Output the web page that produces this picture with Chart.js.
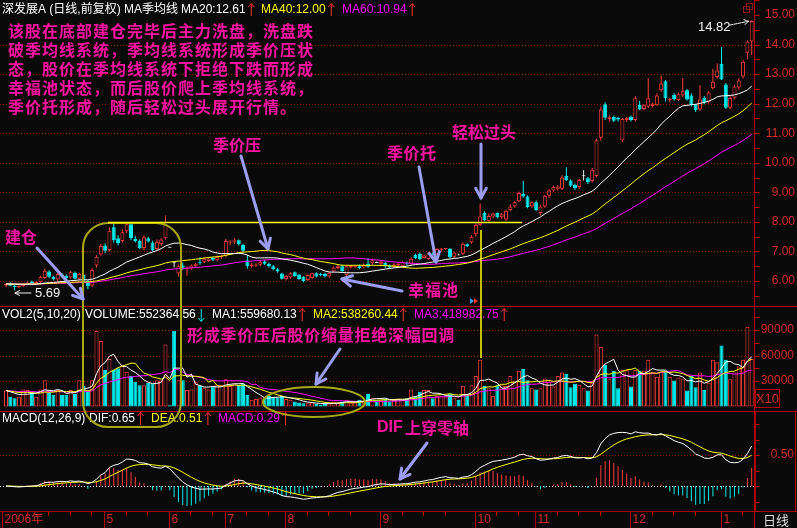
<!DOCTYPE html>
<html>
<head>
<meta charset="utf-8">
<script src="https://cdn.jsdelivr.net/npm/chart.js@4.4.1/dist/chart.umd.min.js"></script>
<style>
html, body { margin: 0; padding: 0; background: #0a0a0a; overflow: hidden; }
#wrap { position: relative; width: 797px; height: 528px; }
</style>
</head>
<body>
<div id="wrap"><canvas id="kline" width="797" height="528"></canvas></div>
<script>
'use strict';

//daily candles, 2006-04 .. 2007-01 (forward adjusted)
var openPx = [5.85,5.90,5.84,5.80,5.83,5.90,5.98,5.92,5.96,6.10,
    6.32,6.14,6.05,6.22,6.18,6.12,6.28,6.08,6.20,6.00,
    5.85,6.52,6.90,7.20,7.05,7.82,7.45,7.35,7.68,7.92,
    7.42,7.35,7.12,7.45,7.30,7.08,7.25,7.45,7.16,6.63,
    6.25,6.52,6.42,6.42,6.50,6.62,6.65,6.68,6.78,6.70,
    6.80,6.85,7.30,7.30,7.38,7.22,6.70,6.50,6.52,6.55,
    6.66,6.58,6.50,6.40,6.25,6.06,6.12,6.30,6.22,6.14,
    6.03,6.10,6.26,6.22,6.24,6.15,6.32,6.44,6.50,6.20,
    6.46,6.48,6.50,6.46,6.58,6.60,6.64,6.58,6.62,6.52,
    6.48,6.52,6.50,6.62,6.58,6.88,6.92,6.78,6.74,6.92,
    6.90,7.06,7.08,7.08,6.82,6.90,6.92,7.24,7.30,7.58,
    7.90,8.30,8.04,8.18,8.30,8.16,8.08,8.40,8.52,8.70,
    8.95,8.86,8.52,8.66,8.30,8.52,8.88,9.06,9.10,9.12,
    9.56,9.40,9.26,9.18,9.58,9.48,9.38,9.55,10.85,11.98,
    11.48,11.55,11.52,10.75,11.45,11.56,11.45,11.96,11.82,11.90,
    11.92,11.95,12.45,12.76,12.12,12.30,12.12,12.28,12.45,12.28,
    11.96,11.80,12.20,12.05,12.52,12.90,13.35,12.65,11.86,12.20,
    12.55,12.92,13.72,14.10]
var highPx = [5.92,5.95,5.88,5.86,5.92,5.98,6.02,6.00,6.18,6.42,
    6.36,6.18,6.28,6.26,6.22,6.34,6.32,6.28,6.22,6.04,
    6.43,6.88,7.25,7.28,7.82,7.98,7.55,7.75,8.00,7.98,
    7.52,7.40,7.55,7.50,7.36,7.40,7.45,8.22,7.16,6.64,
    6.55,6.62,6.50,6.56,6.62,6.80,6.80,6.80,6.82,6.86,
    6.88,7.42,7.38,7.45,7.40,7.26,6.88,6.62,6.60,6.70,
    6.72,6.62,6.54,6.44,6.28,6.20,6.30,6.32,6.24,6.16,
    6.22,6.28,6.30,6.28,6.28,6.32,6.50,6.54,6.55,6.55,
    6.54,6.52,6.56,6.60,6.78,6.76,6.66,6.70,6.66,6.56,
    6.60,6.62,6.68,6.66,6.80,6.92,6.96,6.90,6.98,6.96,
    7.12,7.12,7.12,7.12,6.98,6.92,7.30,7.28,7.55,7.95,
    8.62,8.36,8.28,8.32,8.32,8.30,8.42,8.60,8.70,9.02,
    9.38,8.90,8.70,8.72,8.58,8.92,9.10,9.22,9.24,9.58,
    9.85,9.44,9.30,9.45,9.75,9.52,9.82,10.82,11.90,12.05,
    11.60,11.60,11.56,11.52,11.56,11.60,12.25,12.10,11.98,12.86,
    12.04,12.35,12.95,12.80,12.20,12.36,12.38,12.86,12.50,12.35,
    12.00,12.62,12.26,12.42,13.18,13.36,13.92,12.70,12.25,12.65,
    12.86,13.48,14.14,14.82]
var lowPx = [5.80,5.82,5.69,5.76,5.80,5.86,5.88,5.88,5.93,6.06,
    6.10,6.02,6.00,6.12,6.06,6.08,6.05,6.02,5.98,5.72,
    5.80,6.45,6.86,6.95,7.00,7.30,7.20,7.30,7.62,7.38,
    7.30,7.08,7.05,7.30,7.00,7.02,7.18,7.40,7.16,6.46,
    6.15,6.38,6.18,6.38,6.45,6.55,6.60,6.64,6.68,6.66,
    6.74,6.80,7.20,7.25,7.20,6.98,6.42,6.45,6.48,6.50,
    6.54,6.46,6.36,6.28,6.05,6.02,6.08,6.14,6.04,5.96,
    6.00,6.08,6.12,6.16,6.12,6.12,6.30,6.40,6.30,6.12,
    6.42,6.42,6.40,6.42,6.45,6.55,6.62,6.52,6.45,6.42,
    6.44,6.48,6.46,6.52,6.55,6.74,6.70,6.76,6.72,6.86,
    6.86,7.02,7.05,6.76,6.78,6.88,6.88,7.14,7.26,7.50,
    7.85,8.02,8.00,8.12,8.12,8.10,8.02,8.36,8.48,8.66,
    8.82,8.46,8.48,8.36,8.22,8.48,8.82,9.02,9.06,9.08,
    9.38,9.18,9.08,9.12,9.40,9.28,9.32,9.50,10.75,11.45,
    11.40,11.38,11.40,10.70,11.38,11.40,11.40,11.78,11.78,11.85,
    11.88,11.92,12.40,12.07,12.05,12.10,12.08,12.22,12.10,11.90,
    11.72,11.75,11.98,12.00,12.48,12.84,12.80,11.82,11.80,12.15,
    12.48,12.85,13.50,13.65]
var closePx = [5.90,5.84,5.80,5.83,5.90,5.95,5.92,5.97,6.14,6.35,
    6.14,6.06,6.24,6.16,6.10,6.30,6.08,6.24,6.02,5.82,
    6.38,6.82,7.18,7.02,7.70,7.38,7.28,7.65,7.92,7.45,
    7.35,7.12,7.48,7.34,7.05,7.32,7.40,7.92,7.16,6.63,
    6.50,6.45,6.46,6.52,6.58,6.60,6.76,6.76,6.72,6.82,
    6.84,7.35,7.32,7.40,7.24,7.02,6.50,6.56,6.56,6.65,
    6.58,6.50,6.40,6.32,6.08,6.18,6.26,6.16,6.07,6.00,
    6.20,6.26,6.15,6.20,6.16,6.28,6.46,6.50,6.34,6.50,
    6.52,6.50,6.44,6.54,6.48,6.70,6.64,6.66,6.50,6.46,
    6.56,6.58,6.64,6.58,6.75,6.78,6.74,6.86,6.94,6.90,
    7.08,7.10,7.11,6.80,6.96,6.90,7.26,7.18,7.50,7.90,
    8.18,8.06,8.20,8.28,8.16,8.26,8.38,8.52,8.66,8.98,
    8.86,8.50,8.66,8.40,8.52,8.88,9.06,9.18,9.20,9.50,
    9.42,9.22,9.14,9.42,9.58,9.34,9.76,10.76,11.80,11.52,
    11.56,11.42,11.46,11.48,11.52,11.45,12.18,11.80,11.95,12.18,
    12.00,12.28,12.68,12.18,12.16,12.15,12.32,12.42,12.14,11.96,
    11.78,12.14,12.04,12.38,12.74,13.12,12.82,11.86,12.20,12.58,
    12.78,13.42,14.10,14.80]
//volume in units of 10 shares (panel shows X10)
var volume = [18800,11600,9700,11600,20000,19500,16000,11600,20000,31000,
    15800,13800,19500,13800,13800,19500,14600,31000,24000,18800,
    31000,88700,77000,43000,56000,43000,45000,49000,41000,36000,
    29000,25000,25000,28000,27000,31000,31000,73000,1600,89000,
    31000,31000,19500,20000,29000,24000,21500,20000,23500,25500,
    25500,32000,24000,27000,25500,27000,13600,7900,8700,10500,
    9800,12400,11600,10500,12400,8700,7900,5900,4700,3900,
    3900,4700,3000,2200,3000,3900,5900,4700,5900,7900,
    3900,4700,7900,6700,14600,9800,7900,7900,8700,5900,
    7900,8700,7700,9700,20000,12000,17500,19500,19500,9700,
    12400,12400,10800,15400,9700,7900,24000,13800,25000,36000,
    55000,24000,21500,12400,25000,25000,24000,36000,29000,42000,
    44000,31000,21500,20000,21500,33000,29000,23500,36000,40000,
    38500,22700,26700,25500,21500,18800,28000,84700,70000,49000,
    32000,42000,21500,43000,43000,23500,43000,42000,42000,55000,
    41000,35000,41000,42000,35000,30500,34000,33000,18800,36000,
    22700,40000,19500,28000,55000,52000,71700,55000,32000,40000,
    47000,55000,93800,56000]

var priceTicks = [6, 7, 8, 9, 10, 11, 12, 13, 14, 15]
var priceGrid = [6, 7, 8, 9, 10, 11, 12, 13, 14]
var volumeTicks = [30000, 60000, 90000]
var macdTicks = [0.5]
var monthLabels = ['2006年', '5', '6', '7', '8', '9', '10', '11', '12', '1']
var monthStarts = [0, 23, 38, 51, 65, 87, 109, 123, 145, 166]

var priceHeader = [['深发展A (日线,前复权) MA季均线', 2, '#ffffff', ''], ['MA20:12.61', 181, '#ffffff', 'up'], ['MA40:12.00', 261, '#ffff00', 'up'], ['MA60:10.94', 342, '#ff00ff', 'up']]
var volHeader = [['VOL2(5,10,20)', 2, '#ffffff', ''], ['VOLUME:552364.56', 85, '#ffffff', 'down'], ['MA1:559680.13', 212, '#ffffff', 'up'], ['MA2:538260.44', 313, '#ffff00', 'up'], ['MA3:418982.75', 414, '#ff00ff', 'up']]
var macdHeader = [['MACD(12,26,9)', 2, '#ffffff', ''], ['DIF:0.65', 89, '#ffffff', 'up'], ['DEA:0.51', 151, '#ffff00', 'up'], ['MACD:0.29', 218, '#ff00ff', 'up']]

var noteLines = ['该股在底部建仓完毕后主力洗盘，洗盘跌', '破季均线系统，季均线系统形成季价压状', '态，股价在季均线系统下拒绝下跌而形成', '幸福池状态，而后股价爬上季均线系统，', '季价托形成，随后轻松过头展开行情。']

//colours
var BG = '#0a0a0a'
var UP = '#ff3c3c'
var DN = '#00eeee'
var FLAT = '#e8e8e8'
var AXIS_RED = '#b00000'
var GRID_RED = '#8c0000'
var LABEL_RED = '#d42a2a'
var PINK = '#ff14a0'
var LAVENDER = '#9c9cf0'
var OLIVE = '#a8a814'

//indicators from the candles
function movingAvg(arr, n) {
    return arr.map(function (v, i) {
        let s = 0
        for (let k = i - n + 1; k <= i; k++) s += arr[Math.max(k, 0)]
        return s / n
    })
}

function ema(arr, n) {
    let a = 2 / (n + 1)
    let out = []
    for (let i = 0; i < arr.length; i++) {
        out.push(i === 0 ? arr[0] : a * arr[i] + (1 - a) * out[i - 1])
    }
    return out
}

var ma20 = movingAvg(closePx, 20)
var ma40 = movingAvg(closePx, 40)
var ma60 = movingAvg(closePx, 60)
var vma5 = movingAvg(volume, 5)
var vma10 = movingAvg(volume, 10)
var vma20 = movingAvg(volume, 20)
var ema12 = ema(closePx, 12)
var ema26 = ema(closePx, 26)
var dif = ema12.map(function (v, i) { return v - ema26[i] })
var dea = ema(dif, 9)
var macdHist = dif.map(function (v, i) { return 2 * (v - dea[i]) })

var candleColor = closePx.map(function (c, i) {
    return c > openPx[i] ? UP : (c < openPx[i] ? DN : FLAT)
})
var bodyFill = candleColor.map(function (c) { return c === UP ? BG : c })
var volColor = closePx.map(function (c, i) {
    if (c > openPx[i]) return UP
    if (c < openPx[i]) return DN
    return (i > 0 && c < closePx[i - 1]) ? DN : UP
})
var volFill = volColor.map(function (c) { return c === UP ? BG : c })
var histColor = macdHist.map(function (v) { return v >= 0 ? UP : DN })

//panel geometry: chart area is 0..511, three bands share it
var PRICE_MIN = -1.782, PRICE_MAX = 15.507
var VOL_MIN = -122944, VOL_MAX = 478250
var MACD_MIN = -0.403, MACD_MAX = 7.839
var PANEL_PRICE_BOTTOM = 306.5
var PANEL_VOL_BOTTOM = 411.5
var PANEL_MACD_BOTTOM = 511.5

function hline(ctx, x1, x2, y, color, dash) {
    ctx.save()
    ctx.strokeStyle = color
    ctx.lineWidth = 1
    ctx.setLineDash(dash || [])
    ctx.beginPath()
    ctx.moveTo(x1, y)
    ctx.lineTo(x2, y)
    ctx.stroke()
    ctx.restore()
}

function vline(ctx, x, y1, y2, color) {
    ctx.save()
    ctx.strokeStyle = color
    ctx.lineWidth = 1
    ctx.beginPath()
    ctx.moveTo(x, y1)
    ctx.lineTo(x, y2)
    ctx.stroke()
    ctx.restore()
}

function txt(ctx, s, x, y, color, font, align, spacing) {
    ctx.save()
    ctx.font = font
    ctx.fillStyle = color
    ctx.textAlign = align || 'left'
    ctx.textBaseline = 'middle'
    if (spacing) ctx.letterSpacing = spacing
    ctx.fillText(s, x, y)
    ctx.restore()
}

function arrow(ctx, x1, y1, x2, y2, color, w, head) {
    ctx.save()
    ctx.strokeStyle = color
    ctx.lineWidth = w
    ctx.lineCap = 'round'
    ctx.lineJoin = 'round'
    ctx.beginPath()
    ctx.moveTo(x1, y1)
    ctx.lineTo(x2, y2)
    ctx.stroke()
    let a = Math.atan2(y2 - y1, x2 - x1)
    ctx.beginPath()
    ctx.moveTo(x2 - head * Math.cos(a - 0.5), y2 - head * Math.sin(a - 0.5))
    ctx.lineTo(x2, y2)
    ctx.lineTo(x2 - head * Math.cos(a + 0.5), y2 - head * Math.sin(a + 0.5))
    ctx.stroke()
    ctx.restore()
}

function tinyArrow(ctx, x, yc, dir, color) {
    ctx.save()
    ctx.strokeStyle = color
    ctx.lineWidth = 1
    ctx.beginPath()
    ctx.moveTo(x + 0.5, yc - 6)
    ctx.lineTo(x + 0.5, yc + 6)
    if (dir === 'up') {
        ctx.moveTo(x - 2.5, yc - 3)
        ctx.lineTo(x + 0.5, yc - 6.5)
        ctx.lineTo(x + 3.5, yc - 3)
    } else {
        ctx.moveTo(x - 2.5, yc + 3)
        ctx.lineTo(x + 0.5, yc + 6.5)
        ctx.lineTo(x + 3.5, yc + 3)
    }
    ctx.stroke()
    ctx.restore()
}

function header(ctx, items, y) {
    let font = "12px 'Liberation Sans', Arial, 'Noto Sans CJK SC'"
    items.forEach(function (it) {
        txt(ctx, it[0], it[1], y, it[2], font)
        if (it[3]) {
            ctx.font = font
            let end = it[1] + ctx.measureText(it[0]).width
            tinyArrow(ctx, end + 5, y, it[3], it[3] === 'up' ? '#ff3030' : DN)
        }
    })
}

function roundBox(ctx, x, y, w, h, r) {
    ctx.beginPath()
    ctx.moveTo(x + r, y)
    ctx.lineTo(x + w - r, y)
    ctx.arcTo(x + w, y, x + w, y + r, r)
    ctx.lineTo(x + w, y + h - r)
    ctx.arcTo(x + w, y + h, x + w - r, y + h, r)
    ctx.lineTo(x + r, y + h)
    ctx.arcTo(x, y + h, x, y + h - r, r)
    ctx.lineTo(x, y + r)
    ctx.arcTo(x, y, x + r, y, r)
    ctx.closePath()
}

var panelDecor = {
    id: 'panelDecor',
    beforeDraw: function (chart) {
        let ctx = chart.ctx
        ctx.save()
        ctx.fillStyle = BG
        ctx.fillRect(0, 0, chart.width, chart.height)
        ctx.restore()
    },
    beforeDatasetsDraw: function (chart) {
        let ctx = chart.ctx
        let area = chart.chartArea
        let yS = chart.scales.y, vS = chart.scales.yv, mS = chart.scales.ym
        priceGrid.forEach(function (v) {
            hline(ctx, 0, area.right, Math.round(yS.getPixelForValue(v)) + 0.5, GRID_RED, [1, 2])
        })
        volumeTicks.forEach(function (v) {
            hline(ctx, 0, area.right, Math.round(vS.getPixelForValue(v)) + 0.5, GRID_RED, [1, 2])
        })
        macdTicks.forEach(function (v) {
            hline(ctx, 0, area.right, Math.round(mS.getPixelForValue(v)) + 0.5, GRID_RED, [1, 2])
        })
        //macd zero axis
        hline(ctx, 0, area.right, Math.round(mS.getPixelForValue(0)) + 0.5, '#ffffff', [1, 2])
    },
    afterDatasetsDraw: function (chart) {
        let ctx = chart.ctx
        let area = chart.chartArea
        let xS = chart.scales.x, yS = chart.scales.y, vS = chart.scales.yv, mS = chart.scales.ym
        let W = chart.width
        let axisX = Math.round(area.right) + 0.5
        let numFont = "12px 'Liberation Sans', Arial"

        //frames
        hline(ctx, 0, W, PANEL_PRICE_BOTTOM, AXIS_RED)
        hline(ctx, 0, W, PANEL_VOL_BOTTOM, AXIS_RED)
        hline(ctx, 0, W, PANEL_MACD_BOTTOM, AXIS_RED)
        vline(ctx, axisX, 0, chart.height, AXIS_RED)
        ctx.save()
        ctx.strokeStyle = AXIS_RED
        ctx.strokeRect(axisX + 1, PANEL_VOL_BOTTOM, 795.5 - axisX - 1, 100)
        ctx.restore()

        //right axis labels and ticks
        priceTicks.forEach(function (v) {
            txt(ctx, v.toFixed(2), 795, yS.getPixelForValue(v), LABEL_RED, numFont, 'right')
        })
        for (let v = 5.5; v <= 15.5; v += 0.5) {
            let y = Math.round(yS.getPixelForValue(v)) + 0.5
            if (y < PANEL_PRICE_BOTTOM - 2) hline(ctx, axisX, axisX + 5, y, AXIS_RED)
        }
        volumeTicks.forEach(function (v) {
            txt(ctx, String(v), 794, vS.getPixelForValue(v), LABEL_RED, numFont, 'right')
        })
        for (let v = 15000; v <= 105000; v += 15000) {
            hline(ctx, axisX, axisX + 5, Math.round(vS.getPixelForValue(v)) + 0.5, AXIS_RED)
        }
        macdTicks.forEach(function (v) {
            txt(ctx, v.toFixed(2), 794, mS.getPixelForValue(v), LABEL_RED, numFont, 'right')
        })
        for (let v = -0.25; v <= 1.0; v += 0.25) {
            hline(ctx, axisX, axisX + 5, Math.round(mS.getPixelForValue(v)) + 0.5, AXIS_RED)
        }
        ctx.save()
        ctx.strokeStyle = AXIS_RED
        ctx.strokeRect(755.5, 389.5, 24, 18)
        ctx.restore()
        txt(ctx, 'X10', 767.5, 399, LABEL_RED, "13px 'Liberation Sans', Arial", 'center')

        //date strip
        let band = (area.right - area.left) / closePx.length
        monthStarts.forEach(function (idx, k) {
            let x = k === 0 ? 2.5 : Math.round(xS.getPixelForValue(idx)) - 0.5
            vline(ctx, x, 512, 528, AXIS_RED)
            txt(ctx, monthLabels[k], x + 2, 520, LABEL_RED, "12px 'Liberation Sans', Arial, 'Noto Sans CJK SC'")
            let next = k + 1 < monthStarts.length ? monthStarts[k + 1] : closePx.length
            for (let j = idx + 5; j < next - 2; j += 5) {
                let xm = Math.round(xS.getPixelForValue(j)) - 0.5
                vline(ctx, xm, 512, 516, AXIS_RED)
            }
        })
        txt(ctx, '日线', 763, 520, '#dddddd', "13px 'Noto Sans CJK SC'")

        //panel headers
        header(ctx, priceHeader, 10)
        header(ctx, volHeader, 315)
        header(ctx, macdHeader, 419)

        //small window icon top right
        ctx.save()
        ctx.strokeStyle = '#8a1a1a'
        ctx.strokeRect(743.5, 6.5, 6, 6)
        ctx.strokeRect(746.5, 3.5, 6, 6)
        ctx.restore()

        //high / low markers
        let lastX = xS.getPixelForValue(closePx.length - 1)
        txt(ctx, '14.82', 698, 27, '#f0f0f0', "13px 'Liberation Sans', Arial")
        ctx.save()
        ctx.setLineDash([3, 1])
        arrow(ctx, 730, 25, lastX - 3, yS.getPixelForValue(14.82) + 1, '#f0f0f0', 1, 5)
        ctx.restore()
        arrow(ctx, 31, 293, 15, 293, '#f0f0f0', 1, 5)
        txt(ctx, '5.69', 35, 293, '#f0f0f0', "13px 'Liberation Sans', Arial")

        //yellow annotation shapes
        ctx.save()
        ctx.strokeStyle = OLIVE
        ctx.lineWidth = 2
        roundBox(ctx, 83, 223, 98, 204, 25)
        ctx.stroke()
        ctx.beginPath()
        ctx.ellipse(314, 402, 51, 15, 0, 0, Math.PI * 2)
        ctx.stroke()
        ctx.restore()
        ctx.save()
        ctx.strokeStyle = '#ffff00'
        ctx.lineWidth = 1.5
        ctx.beginPath()
        ctx.moveTo(108, 222.5)
        ctx.lineTo(522, 222.5)
        ctx.moveTo(481, 230)
        ctx.lineTo(481, 358)
        ctx.stroke()
        ctx.restore()

        //little play marker
        ctx.save()
        ctx.fillStyle = '#3aa0ff'
        ctx.beginPath(); ctx.moveTo(470, 298); ctx.lineTo(474, 301); ctx.lineTo(470, 304); ctx.fill()
        ctx.fillStyle = '#ff3030'
        ctx.beginPath(); ctx.moveTo(474, 298); ctx.lineTo(478, 301); ctx.lineTo(474, 304); ctx.fill()
        ctx.restore()

        //pink notes
        let noteFont = "bold 16px 'Noto Sans CJK SC'"
        noteLines.forEach(function (line, k) {
            txt(ctx, line, 8, 31 + k * 19, PINK, noteFont, 'left', '1px')
        })
        txt(ctx, '建仓', 5, 237, PINK, noteFont)
        txt(ctx, '季价压', 213, 145, PINK, noteFont)
        txt(ctx, '季价托', 387, 153, PINK, noteFont, 'left', '0.5px')
        txt(ctx, '轻松过头', 452, 132, PINK, noteFont)
        txt(ctx, '幸福池', 408, 290, PINK, noteFont, 'left', '1px')
        txt(ctx, '形成季价压后股价缩量拒绝深幅回调', 187, 335, PINK, noteFont, 'left', '0.75px')
        txt(ctx, 'DIF', 377, 428, PINK, "bold 16px 'Liberation Sans', Arial")
        txt(ctx, '上穿零轴', 405, 428, PINK, noteFont)

        //lavender arrows
        arrow(ctx, 37, 248, 83, 299, LAVENDER, 3, 11)
        arrow(ctx, 241, 156, 268, 249, LAVENDER, 3, 11)
        arrow(ctx, 419, 167, 436, 262, LAVENDER, 3, 11)
        arrow(ctx, 481, 144, 481, 198, LAVENDER, 3, 11)
        arrow(ctx, 402, 291, 342, 279, LAVENDER, 3, 11)
        arrow(ctx, 340, 349, 316, 384, LAVENDER, 3, 11)
        arrow(ctx, 427, 443, 400, 479, LAVENDER, 3, 11)
    }
}

function lineSet(data, axis, color) {
    return {
        type: 'line', data: data, yAxisID: axis, borderColor: color, borderWidth: 1,
        pointRadius: 0, tension: 0, order: 0, fill: false
    }
}

var config = {
    type: 'bar',
    data: {
        labels: closePx.map(function (c, i) { return i }),
        datasets: [
            { type: 'bar', label: 'wick', data: lowPx.map(function (l, i) { return [l, highPx[i]] }), yAxisID: 'y',
              backgroundColor: candleColor, borderWidth: 0, barThickness: 1, grouped: false, order: 2, minBarLength: 1, inflateAmount: 0 },
            { type: 'bar', label: 'body', data: openPx.map(function (o, i) { return [o, closePx[i]] }), yAxisID: 'y',
              backgroundColor: bodyFill, borderColor: candleColor, borderWidth: 1, borderSkipped: false,
              barThickness: 4, grouped: false, order: 1, minBarLength: 1, inflateAmount: 0 },
            lineSet(ma20, 'y', '#ffffff'),
            lineSet(ma40, 'y', '#ffff00'),
            lineSet(ma60, 'y', '#ff00ff'),
            { type: 'bar', label: 'volume', data: volume, yAxisID: 'yv',
              backgroundColor: volFill, borderColor: volColor, borderWidth: 1, borderSkipped: false,
              barThickness: 4, grouped: false, order: 1, inflateAmount: 0 },
            lineSet(vma5, 'yv', '#ffffff'),
            lineSet(vma10, 'yv', '#ffff00'),
            lineSet(vma20, 'yv', '#ff00ff'),
            { type: 'bar', label: 'macd', data: macdHist, yAxisID: 'ym',
              backgroundColor: histColor, borderWidth: 0, barThickness: 1, grouped: false, order: 1, inflateAmount: 0 },
            lineSet(dif, 'ym', '#ffffff'),
            lineSet(dea, 'ym', '#ffff00')
        ]
    },
    options: {
        responsive: false,
        devicePixelRatio: 1,
        animation: false,
        events: [],
        layout: { padding: { left: 3.85, right: 43.15, top: 0, bottom: 17 } },
        plugins: { legend: { display: false }, tooltip: { enabled: false } },
        scales: {
            x: { type: 'category', display: false, offset: true, grid: { display: false } },
            y: { type: 'linear', display: false, min: PRICE_MIN, max: PRICE_MAX },
            yv: { type: 'linear', display: false, min: VOL_MIN, max: VOL_MAX },
            ym: { type: 'linear', display: false, min: MACD_MIN, max: MACD_MAX }
        }
    },
    plugins: [panelDecor]
}

new Chart(document.getElementById('kline'), config)
</script>
</body>
</html>
